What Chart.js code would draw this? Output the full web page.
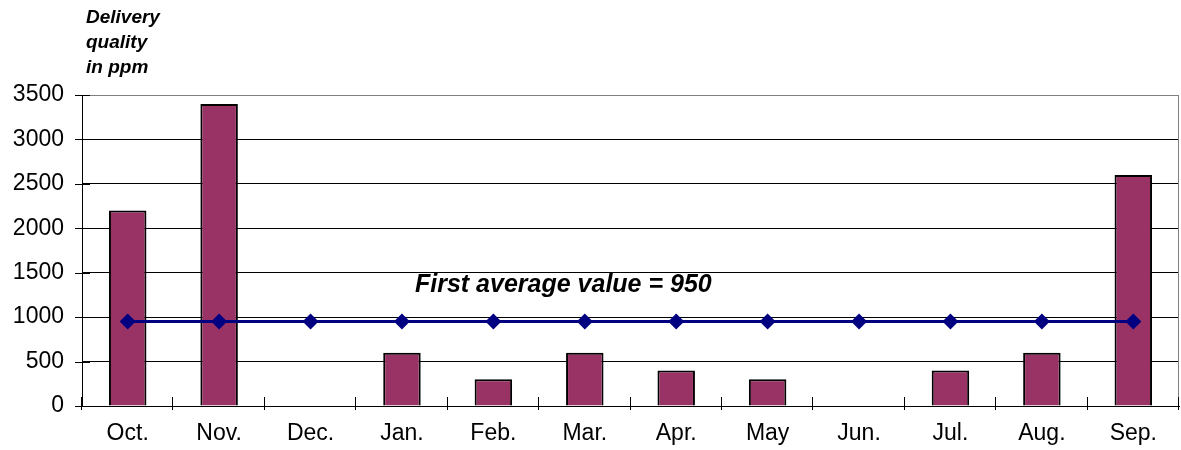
<!DOCTYPE html>
<html>
<head>
<meta charset="utf-8">
<script src="https://cdn.jsdelivr.net/npm/chart.js@4.4.1/dist/chart.umd.min.js"></script>
<style>
  html, body { margin: 0; padding: 0; background: #fff; }
  #wrap { width: 1181px; height: 450px; }
</style>
</head>
<body>
<div id="wrap"><canvas id="myChart" width="1181" height="450"></canvas></div>
<script>
// data
const months = ["Oct.", "Nov.", "Dec.", "Jan.", "Feb.", "Mar.", "Apr.", "May", "Jun.", "Jul.", "Aug.", "Sep."];
const ppmValues = [2200, 3400, 0, 600, 300, 600, 400, 300, 0, 400, 600, 2600];
const averageValues = [950, 950, 950, 950, 950, 950, 950, 950, 950, 950, 950, 950];
const yTicks = [0, 500, 1000, 1500, 2000, 2500, 3000, 3500];
const axisTitle = ["Delivery", "quality", "in ppm"];
const averageLabel = "First average value = 950";

const font = "'Liberation Sans', Arial, sans-serif";

// extra drawing: axis titles, cross ticks, right border, annotation
const extras = {
    id: "extras",
    afterDraw(chart) {
        const c = chart.ctx;
        const xs = chart.scales.x;
        const ys = chart.scales.y;
        const area = chart.chartArea;
        c.save();

        // right border in grey
        c.strokeStyle = "#808080";
        c.lineWidth = 1;
        c.beginPath();
        c.moveTo(area.right - 0.5, area.top);
        c.lineTo(area.right - 0.5, area.bottom);
        c.stroke();

        // tick marks crossing the axes
        c.strokeStyle = "#000";
        c.beginPath();
        yTicks.forEach(v => {
            const y = Math.round(ys.getPixelForValue(v)) + 0.5;
            c.moveTo(area.left - 7, y);
            c.lineTo(area.left + 8, y);
        });
        const step = xs.width / months.length;
        for (let i = 0; i <= months.length; i++) {
            const x = Math.round(xs.left + i * step) - 0.5;
            c.moveTo(x, area.bottom - 9);
            c.lineTo(x, area.bottom + 4);
        }
        c.stroke();

        // title over the y axis
        c.fillStyle = "#000";
        c.font = "italic bold 19px " + font;
        c.textAlign = "left";
        c.textBaseline = "alphabetic";
        axisTitle.forEach((t, i) => c.fillText(t, 86, 23 + i * 25));

        // average label
        c.font = "italic bold 25px " + font;
        c.fillText(averageLabel, 415, 292);
        c.restore();
    }
};

const ctx = document.getElementById("myChart").getContext("2d");
const chart = new Chart(ctx, {
    type: "bar",
    data: {
        labels: months,
        datasets: [
            {
                type: "line",
                label: "Average",
                data: averageValues,
                borderColor: "#000080",
                backgroundColor: "#000080",
                borderWidth: 3,
                pointStyle: "rectRot",
                pointRadius: 8,
                pointBorderWidth: 0,
                fill: false,
                tension: 0,
                order: 0
            },
            {
                label: "ppm",
                data: ppmValues,
                backgroundColor: "#993366",
                borderColor: "#000",
                borderWidth: 2,
                barPercentage: 0.41,
                categoryPercentage: 1,
                order: 1
            }
        ]
    },
    options: {
        responsive: false,
        animation: false,
        layout: { autoPadding: false, padding: { left: 0, right: 2, top: 95, bottom: 0 } },
        plugins: {
            legend: { display: false },
            tooltip: { enabled: false },
            title: { display: false }
        },
        scales: {
            x: {
                grid: { display: false, drawTicks: false },
                border: { display: true, color: "#000", width: 1 },
                ticks: {
                    color: "#000",
                    font: { family: font, size: 23 },
                    padding: 14,
                    maxRotation: 0
                },
                afterFit(scale) {
                    scale.height = 44;
                    scale.paddingLeft = 0;
                    scale.paddingRight = 0;
                }
            },
            y: {
                min: 0,
                max: 3500,
                afterBuildTicks(scale) { scale.ticks = yTicks.map(v => ({ value: v })); },
                grid: {
                    color: c => (c.tick && c.tick.value === 3500 ? "#808080" : "#000"),
                    lineWidth: 1,
                    drawTicks: false
                },
                border: { display: true, color: "#000", width: 1 },
                ticks: {
                    color: "#000",
                    font: { family: font, size: 23 },
                    padding: 18,
                    callback: v => String(v)
                },
                afterFit(scale) {
                    scale.width = 82;
                    scale.paddingTop = 0;
                    scale.paddingBottom = 0;
                }
            }
        }
    },
    plugins: [extras]
});
</script>
</body>
</html>
